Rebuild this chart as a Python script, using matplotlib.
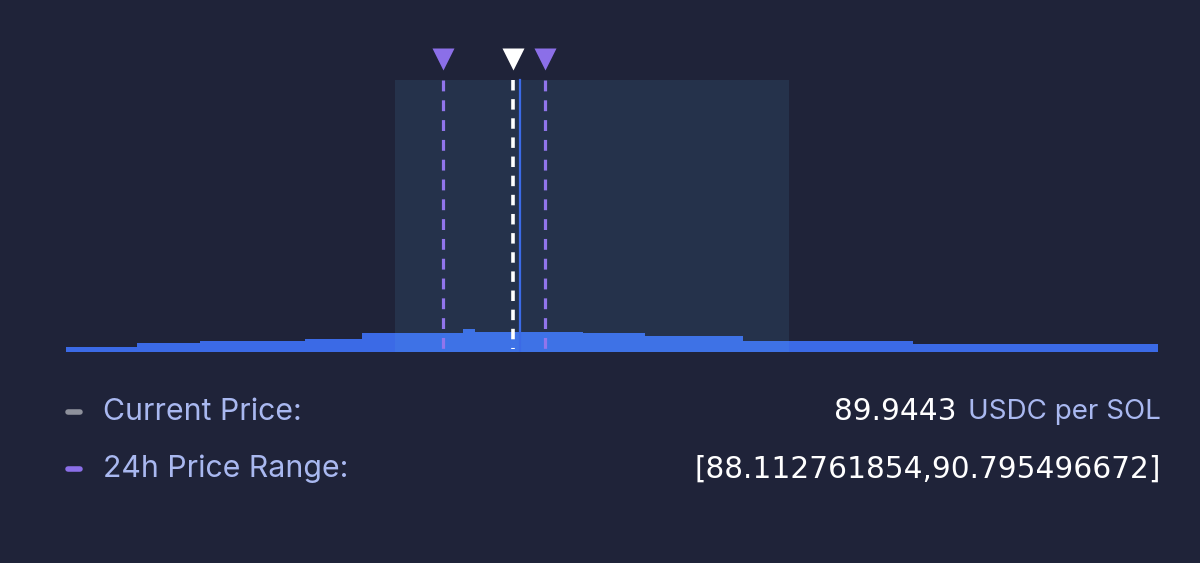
import matplotlib
matplotlib.use("Agg")
import matplotlib.pyplot as plt

W, H = 1200, 563

## DATA ##
# liquidity histogram (price bin edges, relative liquidity)
bin_edges = [78.20, 80.07, 81.72, 84.48, 85.98, 88.64, 88.95, 91.80, 93.43, 96.00, 100.48, 106.92]
liquidity = [5.5, 9.5, 11.0, 13.5, 19.5, 23.0, 20.0, 19.3, 16.5, 11.0, 8.0]

current_price = 89.9443
range_low = 88.112761854
range_high = 90.795496672
pool_price = 90.14
band_low, band_high = 86.85, 97.21

label_current = "Current Price:"
label_range = "24h Price Range:"
unit_text = "USDC per SOL"

# colours
bg = "#1F2339"
blue = "#3B6AE6"
purple = "#8B6FE8"
lavender = "#A9B8F0"


def fx(px):
    return px / W


def fy(py):
    return 1 - py / H


fig = plt.figure(figsize=(W / 100, H / 100), dpi=100, facecolor=bg)
plt.rcParams["font.family"] = ["Inter", "DejaVu Sans"]
num_font = ["DejaVu Sans"]

# chart area: x 66..1158 px, y 40..352 px
ax = fig.add_axes([fx(66), fy(352), fx(1158 - 66), (352 - 40) / H])
ax.set_facecolor(bg)
ax.set_xlim(bin_edges[0], bin_edges[-1])
ax.set_ylim(0, 312)
ax.axis("off")

# liquidity area
ax.stairs(liquidity, bin_edges, fill=True, color=blue, zorder=2)

# shaded band
ax.axvspan(band_low, band_high, ymin=0, ymax=272 / 312, color="#5AB4E6", alpha=0.11, lw=0, zorder=3)

# pool price line
ax.plot([pool_price, pool_price], [0, 272], color=blue, lw=1.6, zorder=4)

# dashed markers (drawn from top so dash starts at top)
dash = (0, (3.4, 2.8))
for p in [range_low, range_high]:
    ax.plot([p, p], [272, 3], color="#9175EC", lw=2.3, ls=dash, zorder=5)
    ax.plot([p], [293], marker="v", ms=15.5, color=purple, mec="none", zorder=6)
ax.plot([current_price, current_price], [272, 3], color="white", lw=2.6,
        ls=(0, (2.9, 2.4)), zorder=5)
ax.plot([current_price], [293], marker="v", ms=15.5, color="white", mec="none", zorder=6)

# legend rows
rows = [(412, label_current, "#8E919C"), (469, label_range, purple)]
for y, lab, c in rows:
    fig.lines.append(plt.Line2D([fx(68), fx(80)], [fy(y), fy(y)], transform=fig.transFigure,
                                color=c, lw=4, solid_capstyle="round"))
    fig.text(fx(103), fy(y), lab, color=lavender, fontsize=21.8, va="center", ha="left")

# right-hand values
t_unit = fig.text(fx(1161), fy(412), unit_text, color=lavender, fontsize=20, va="center", ha="right")
fig.canvas.draw()
bb = t_unit.get_window_extent()
fig.text(bb.x0 / W - fx(12), fy(412), f"{current_price:.4f}", color="white", fontsize=21.3,
         family=num_font, va="center", ha="right")
fig.text(fx(1161), fy(469), f"[{range_low},{range_high}]", color="white", fontsize=21.3,
         family=num_font, va="center", ha="right")

fig.savefig("out.png", dpi=100, facecolor=bg)
